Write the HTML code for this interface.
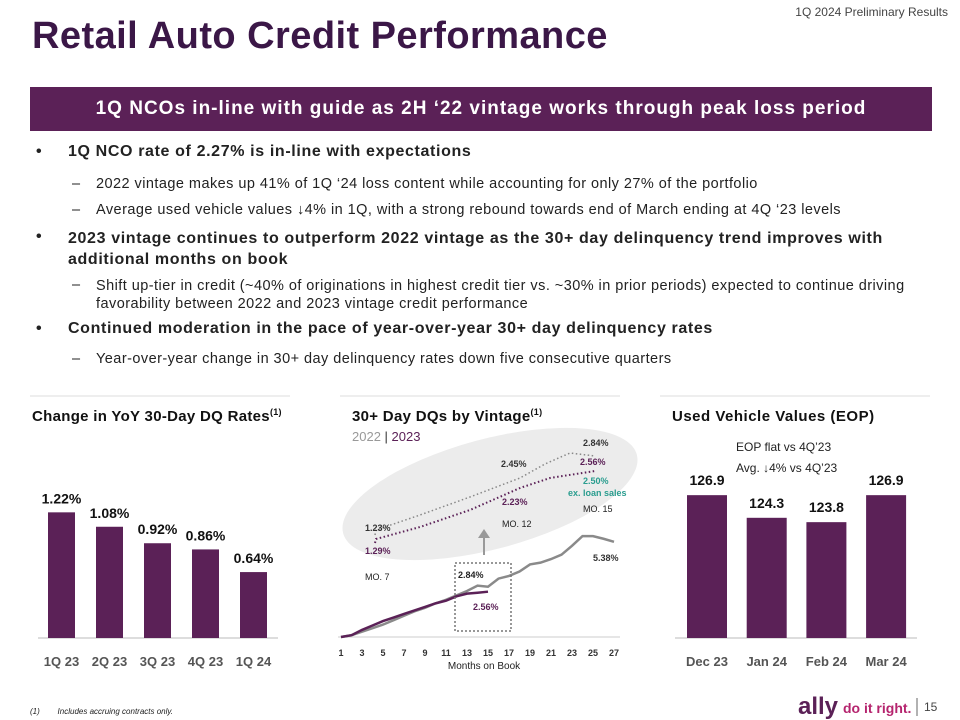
<!DOCTYPE html>
<html><head><meta charset="utf-8"><style>
body{margin:0;width:960px;height:720px;background:#fff;font-family:"Liberation Sans",sans-serif;position:relative;overflow:hidden;color:#222}
.a{position:absolute;white-space:nowrap}
.b{font-weight:bold}
.bt{font-size:16px;letter-spacing:0.63px;font-weight:bold}
.sb{font-size:14.5px;letter-spacing:0.45px}
</style></head><body>
<div class="a" style="right:12px;top:5px;font-size:12px;color:#444">1Q 2024 Preliminary Results</div>
<div class="a b" style="left:32px;top:15px;font-size:38px;color:#3b1747;letter-spacing:0.45px">Retail Auto Credit Performance</div>
<div class="a b" style="left:30px;top:87px;width:902px;height:44px;background:#5b2157;color:#fff;font-size:19px;letter-spacing:1px;line-height:44px;text-align:center">1Q NCOs in-line with guide as 2H ‘22 vintage works through peak loss period</div>
<div>
<div class="a bt" style="left:36px;top:143px">•</div><div class="a bt" style="left:68px;top:143px">1Q NCO rate of 2.27% is in-line with expectations</div>
<div class="a sb" style="left:72px;top:176px">–</div><div class="a sb" style="left:96px;top:176px">2022 vintage makes up 41% of 1Q ‘24 loss content while accounting for only 27% of the portfolio</div>
<div class="a sb" style="left:72px;top:202px">–</div><div class="a sb" style="left:96px;top:202px">Average used vehicle values ↓4% in 1Q, with a strong rebound towards end of March ending at 4Q ‘23 levels</div>
<div class="a bt" style="left:36px;top:228px">•</div><div class="a bt" style="left:68px;top:228px;line-height:21px">2023 vintage continues to outperform 2022 vintage as the 30+ day delinquency trend improves with<br>additional months on book</div>
<div class="a sb" style="left:72px;top:277px">–</div><div class="a sb" style="left:96px;top:277px;line-height:18px">Shift up-tier in credit (~40% of originations in highest credit tier vs. ~30% in prior periods) expected to continue driving<br>favorability between 2022 and 2023 vintage credit performance</div>
<div class="a bt" style="left:36px;top:320px">•</div><div class="a bt" style="left:68px;top:320px">Continued moderation in the pace of year-over-year 30+ day delinquency rates</div>
<div class="a sb" style="left:72px;top:351px">–</div><div class="a sb" style="left:96px;top:351px">Year-over-year change in 30+ day delinquency rates down five consecutive quarters</div>
</div>
<svg id="charts" class="a" style="left:0;top:0" width="960" height="720">
<line x1="30" y1="396" x2="290" y2="396" stroke="#eee" stroke-width="2"/>
<line x1="340" y1="396" x2="620" y2="396" stroke="#eee" stroke-width="2"/>
<line x1="660" y1="396" x2="930" y2="396" stroke="#eee" stroke-width="2"/>
<text x="32" y="421" font-size="15" font-weight="bold" fill="#111" letter-spacing="0.3">Change in YoY 30-Day DQ Rates<tspan font-size="9" dy="-6">(1)</tspan></text>
<text x="352" y="421" font-size="15" font-weight="bold" fill="#111" letter-spacing="0.3">30+ Day DQs by Vintage<tspan font-size="9" dy="-6">(1)</tspan></text>
<text x="672" y="421" font-size="15" font-weight="bold" fill="#111" letter-spacing="0.5">Used Vehicle Values (EOP)</text>
<text x="352" y="441" font-size="13"><tspan fill="#999">2022 </tspan><tspan fill="#333">| </tspan><tspan fill="#5b2157">2023</tspan></text>
<ellipse cx="490" cy="494" rx="152" ry="55" transform="rotate(-15 490 494)" fill="#ececec"/>
<g id="left"></g><g id="mid"></g><g id="right"></g>
<text x="736" y="451" font-size="12" fill="#222">EOP flat vs 4Q’23</text>
<text x="736" y="472" font-size="12" fill="#222">Avg. ↓4% vs 4Q’23</text>
<text x="484" y="669" font-size="10" fill="#222" text-anchor="middle">Months on Book</text>
<text x="30" y="714" font-size="8" font-style="italic" fill="#222">(1)&#160;&#160;&#160;&#160;&#160;&#160;&#160;&#160;Includes accruing contracts only.</text>
<text x="798" y="714" font-size="24" font-weight="bold" fill="#5b2157">ally</text>
<text x="843" y="713" font-size="14" font-weight="bold" fill="#b5246e">do it right.</text>
<line x1="917" y1="698" x2="917" y2="716" stroke="#666"/>
<text x="924" y="711" font-size="12" fill="#444">15</text>
</svg>
<script>
const NS='http://www.w3.org/2000/svg';
function mk(p,t,a,txt){const e=document.createElementNS(NS,t);for(const k in a)e.setAttribute(k,a[k]);if(txt!=null)e.textContent=txt;p.appendChild(e);return e;}
const leftCats=['1Q 23','2Q 23','3Q 23','4Q 23','1Q 24'];
const leftVals=[1.22,1.08,0.92,0.86,0.64];
const rightCats=['Dec 23','Jan 24','Feb 24','Mar 24'];
const rightVals=[126.9,124.3,123.8,126.9];
const months=[1,2,3,4,5,6,7,8,9,10,11,12,13,14,15,16,17,18,19,20,21,22,23,24,25,26,27];
const v2022=[0,0.1,0.3,0.5,0.7,0.95,1.2,1.45,1.65,1.9,2.1,2.35,2.6,2.9,2.84,3.3,3.45,3.7,4.1,4.2,4.4,4.65,5.15,5.7,5.7,5.55,5.38];
const v2023=[0,0.1,0.4,0.65,0.9,1.1,1.3,1.5,1.7,1.9,2.05,2.3,2.45,2.5,2.56];
const xTicks=[1,3,5,7,9,11,13,15,17,19,21,23,25,27];
const base=638;
const L=document.getElementById('left');
mk(L,'line',{x1:38,y1:base,x2:278,y2:base,stroke:'#ddd','stroke-width':2});
leftVals.forEach((v,i)=>{const x=48+i*48,h=v*103;
const r=mk(L,'rect',{x:x,y:base-h,width:27,height:h,fill:'#5b2157'});


mk(L,'text',{x:x+13.5,y:base-h-9,'font-size':14,'font-weight':'bold','text-anchor':'middle',fill:'#111'},v.toFixed(2)+'%');
mk(L,'text',{x:x+13.5,y:666,'font-size':13,'font-weight':'bold','text-anchor':'middle',fill:'#555'},leftCats[i]);});
const R=document.getElementById('right');
mk(R,'line',{x1:675,y1:base,x2:917,y2:base,stroke:'#ddd','stroke-width':2});
const ry=v=>base-(v-110.5)*8.71;
rightVals.forEach((v,i)=>{const x=687+i*59.7;
const r=mk(R,'rect',{x:x,y:ry(v),width:40,height:base-ry(v),fill:'#5b2157'});


mk(R,'text',{x:x+20,y:ry(v)-10,'font-size':14,'font-weight':'bold','text-anchor':'middle',fill:'#111'},v.toFixed(1));
mk(R,'text',{x:x+20,y:666,'font-size':13,'font-weight':'bold','text-anchor':'middle',fill:'#555'},rightCats[i]);});
const M=document.getElementById('mid');
const mx=m=>341+(m-1)*10.5, my=v=>637-v*17.7;
mk(M,'line',{x1:338,y1:637,x2:620,y2:637,stroke:'#ddd','stroke-width':1.5});
xTicks.forEach(t=>mk(M,'text',{x:mx(t),y:656,'font-size':9,'font-weight':'bold','text-anchor':'middle',fill:'#333'},t));
const p22=mk(M,'polyline',{points:v2022.map((v,i)=>mx(months[i])+','+my(v)).join(' '),fill:'none',stroke:'#8a8a8a','stroke-width':2.5});


const p23=mk(M,'polyline',{points:v2023.map((v,i)=>mx(months[i])+','+my(v)).join(' '),fill:'none',stroke:'#5b2157','stroke-width':2.5});


mk(M,'rect',{x:455,y:563,width:56,height:68,fill:'none',stroke:'#777','stroke-width':1.5,'stroke-dasharray':'2,2'});
mk(M,'line',{x1:484,y1:555,x2:484,y2:537,stroke:'#999','stroke-width':2});
mk(M,'path',{d:'M478,538 L484,529 L490,538 Z',fill:'#999'});
mk(M,'path',{d:'M375,535 L376,530 L420,515 L470,497 L520,478 L545,464 L570,453 L595,456',fill:'none',stroke:'#888','stroke-width':1.5,'stroke-dasharray':'1.5,2.5'});
mk(M,'path',{d:'M375,543 L376,539 L420,527 L470,510 L520,488 L550,478 L595,471',fill:'none',stroke:'#5b2157','stroke-width':2,'stroke-dasharray':'1.5,2.5'});
const lbl=[[365,531,'1.23%','#333'],[365,554,'1.29%','#5b2157'],[501,467,'2.45%','#333'],[502,505,'2.23%','#5b2157'],[583,446,'2.84%','#333'],[580,465,'2.56%','#5b2157'],[583,484,'2.50%','#2a9d8f'],[568,496,'ex. loan sales','#2a9d8f'],[458,578,'2.84%','#222'],[473,610,'2.56%','#5b2157'],[593,561,'5.38%','#333']];
lbl.forEach(l=>mk(M,'text',{x:l[0],y:l[1],'font-size':9,'font-weight':'bold',fill:l[3]},l[2]));
mk(M,'text',{x:502,y:527,'font-size':9,fill:'#222'},'MO. 12');
mk(M,'text',{x:583,y:512,'font-size':9,fill:'#222'},'MO. 15');
mk(M,'text',{x:365,y:580,'font-size':9,fill:'#222'},'MO. 7');
</script>
</body></html>
